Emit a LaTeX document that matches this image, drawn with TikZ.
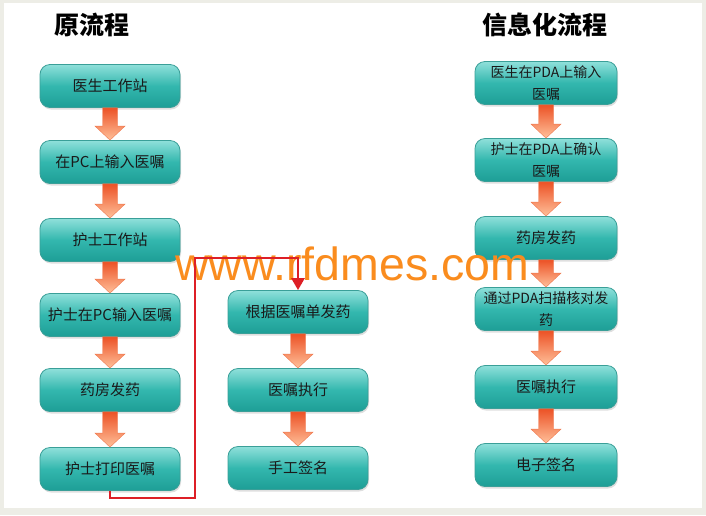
\documentclass[tikz,border=0pt]{standalone}
\usepackage{fontspec}
\setmainfont{Noto Sans CJK SC}
\newfontfamily\wmfont{Liberation Sans}
\usetikzlibrary{arrows.meta,shadows,calc}
\definecolor{bgGrey}{HTML}{EDEDE6}
\definecolor{tealTop}{HTML}{8FE0DA}
\definecolor{tealMid}{HTML}{33B7AE}
\definecolor{tealBot}{HTML}{1E9E96}
\definecolor{tealLine}{HTML}{3A9F98}
\definecolor{arrTop}{HTML}{EC5226}
\definecolor{arrBot}{HTML}{FFC09A}
\definecolor{arrLine}{HTML}{F07A50}
\definecolor{wmOrange}{HTML}{FA8C1E}
\definecolor{redLine}{HTML}{DD1F26}
\definecolor{boxText}{HTML}{1A1A1A}
\tikzset{
  flowbox/.style={rectangle, rounded corners=10pt, minimum width=140pt, minimum height=43pt,
    inner sep=2pt, top color=tealTop, bottom color=tealBot, middle color=tealMid,
    draw=tealLine, line width=0.8pt, text=boxText, font=\fontsize{15}{20}\selectfont,
    drop shadow={opacity=0.25, shadow xshift=1pt, shadow yshift=-2pt}},
  flowboxtwo/.style={flowbox, minimum width=142pt, align=center, font=\fontsize{14}{22}\selectfont},
  fatarr/.style={top color=arrTop, bottom color=arrBot, draw=arrLine, line width=0.4pt},
  redpath/.style={draw=redLine, line width=2.6pt, -{Triangle[width=13pt,length=12pt]}},
  titletext/.style={font=\fontsize{25}{30}\selectfont\bfseries, inner sep=0pt}
}
\newcommand\fatarrow[2]{%
  \path[fatarr] let \p1=(#1.south), \p2=(#2.north) in
    (\x1-7.5pt,\y1) -- (\x1+7.5pt,\y1) -- (\x1+7.5pt,\y2+14pt) -- (\x1+15pt,\y2+14pt)
    -- (\x1,\y2) -- (\x1-15pt,\y2+14pt) -- (\x1-7.5pt,\y2+14pt) -- cycle;}
\begin{document}
\begin{tikzpicture}[x=1pt,y=-1pt]
\useasboundingbox (0,0) rectangle (706,515);
\fill[bgGrey] (0,0) rectangle (706,515);
\fill[white] (4,3) rectangle (702,508);
% titles
\node[titletext] (t1) at (92,25) {原流程};
\node[titletext] (t2) at (545,25) {信息化流程};
% left column
\node[flowbox] (L1) at (110,86) {医生工作站};
\node[flowbox] (L2) at (110,162) {在PC上输入医嘱};
\node[flowbox] (L3) at (110,240) {护士工作站};
\node[flowbox] (L4) at (110,315) {护士在PC输入医嘱};
\node[flowbox] (L5) at (110,390) {药房发药};
\node[flowbox] (L6) at (110,469) {护士打印医嘱};
% middle column
\node[flowbox] (M1) at (298,312) {根据医嘱单发药};
\node[flowbox] (M2) at (298,390) {医嘱执行};
\node[flowbox] (M3) at (298,468) {手工签名};
% right column
\node[flowboxtwo] (R1) at (546,83) {医生在PDA上输入\\医嘱};
\node[flowboxtwo] (R2) at (546,160) {护士在PDA上确认\\医嘱};
\node[flowbox, minimum width=142pt] (R3) at (546,238) {药房发药};
\node[flowboxtwo] (R4) at (546,309) {通过PDA扫描核对发\\药};
\node[flowbox, minimum width=142pt] (R5) at (546,387) {医嘱执行};
\node[flowbox, minimum width=142pt] (R6) at (546,465) {电子签名};
% fat arrows
\fatarrow{L1}{L2}
\fatarrow{L2}{L3}
\fatarrow{L3}{L4}
\fatarrow{L4}{L5}
\fatarrow{L5}{L6}
\fatarrow{M1}{M2}
\fatarrow{M2}{M3}
\fatarrow{R1}{R2}
\fatarrow{R2}{R3}
\fatarrow{R3}{R4}
\fatarrow{R4}{R5}
\fatarrow{R5}{R6}
% watermark
\node[anchor=base west, inner sep=0pt, text=wmOrange, font=\wmfont\fontsize{46.5}{50}\selectfont] (wm) at (175,280) {www.rfdmes.com};
% red connector
\coordinate (r1) at (195,498);
\coordinate (r2) at (195,258);
\draw[redpath] (L6.south) |- (r1) -- (r2) -| (M1.north);
\end{tikzpicture}
\end{document}
